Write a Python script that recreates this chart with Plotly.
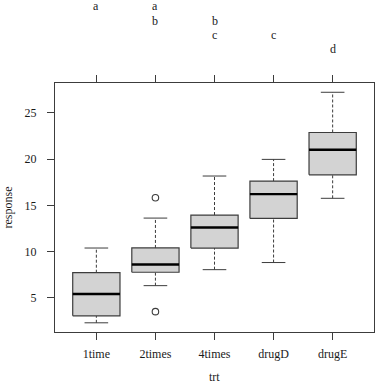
import plotly.graph_objects as go

# ---- data ----
groups = ["1time", "2times", "4times", "drugD", "drugE"]
lower_whisker = [2.30, 6.32, 8.05, 8.82, 15.77]
q1 = [3.06, 7.77, 10.39, 13.59, 18.31]
median = [5.42, 8.61, 12.61, 16.22, 21.02]
q3 = [7.72, 10.40, 13.96, 17.63, 22.89]
upper_whisker = [10.39, 13.63, 18.18, 19.98, 27.24]
outlier_group = ["2times", "2times"]
outlier_value = [3.51, 15.83]
cld_letters = ["a", "ab", "bc", "c", "d"]
y_ticks = [5, 10, 15, 20, 25]

# ---- style ----
FONT = "Liberation Serif"
LINE = "#3c3c3c"
TEXT = "#1a1a1a"
BOX_HALF = 0.4
CAP_HALF = 0.2

pos = {g: i + 1 for i, g in enumerate(groups)}

fig = go.Figure()

for i, g in enumerate(groups):
    x = pos[g]
    # whiskers (dashed)
    fig.add_trace(go.Scatter(
        x=[x, x, None, x, x],
        y=[lower_whisker[i], q1[i], None, q3[i], upper_whisker[i]],
        mode="lines", line=dict(color=LINE, width=1, dash="3px,2px"),
        hoverinfo="skip", showlegend=False))
    # staples
    fig.add_trace(go.Scatter(
        x=[x - CAP_HALF, x + CAP_HALF, None, x - CAP_HALF, x + CAP_HALF],
        y=[lower_whisker[i], lower_whisker[i], None, upper_whisker[i], upper_whisker[i]],
        mode="lines", line=dict(color=LINE, width=1),
        hoverinfo="skip", showlegend=False))
    # box
    fig.add_trace(go.Scatter(
        x=[x - BOX_HALF, x + BOX_HALF, x + BOX_HALF, x - BOX_HALF, x - BOX_HALF],
        y=[q1[i], q1[i], q3[i], q3[i], q1[i]],
        mode="lines", fill="toself", fillcolor="#D3D3D3",
        line=dict(color=LINE, width=1.2),
        hoverinfo="skip", showlegend=False))
    # median
    fig.add_trace(go.Scatter(
        x=[x - BOX_HALF, x + BOX_HALF],
        y=[median[i], median[i]],
        mode="lines", line=dict(color="black", width=2.4),
        hoverinfo="skip", showlegend=False))

# outliers
fig.add_trace(go.Scatter(
    x=[pos[g] for g in outlier_group], y=outlier_value,
    mode="markers",
    marker=dict(symbol="circle-open", size=6.5, color=LINE, line=dict(width=1.1)),
    hoverinfo="skip", showlegend=False))

# compact letter display above the panel
all_letters = sorted(set("".join(cld_letters)))
for g, s in zip(groups, cld_letters):
    for ch in s:
        row = all_letters.index(ch)
        center_y = 6.3 + 14.2 * row
        fig.add_annotation(
            x=pos[g], xref="x", y=1, yref="paper",
            yanchor="middle", yshift=83 - center_y,
            text=ch, showarrow=False,
            font=dict(family=FONT, size=12, color=TEXT))

# axis titles
fig.add_annotation(x=0, xref="paper", y=0.5, yref="paper",
                   xanchor="center", yanchor="middle", xshift=-48,
                   text="response", textangle=-90, showarrow=False,
                   font=dict(family=FONT, size=12, color=TEXT))
fig.add_annotation(x=0.5, xref="paper", y=0, yref="paper",
                   xanchor="center", yanchor="middle", yshift=-45,
                   text="trt", showarrow=False,
                   font=dict(family=FONT, size=12, color=TEXT))

fig.update_layout(
    template="none",
    width=376, height=386,
    margin=dict(l=55, r=2, t=83, b=54, autoexpand=False),
    paper_bgcolor="white", plot_bgcolor="white",
    font=dict(family=FONT, size=12, color=TEXT),
    xaxis=dict(
        range=[0.3, 5.7], tickmode="array",
        tickvals=[pos[g] for g in groups], ticktext=groups,
        ticks="outside", ticklen=7, tickcolor=LINE, tickwidth=1,
        showline=True, linecolor=LINE, linewidth=1, mirror="ticks",
        showgrid=False, zeroline=False, ticklabelstandoff=4,
        automargin=False,
    ),
    yaxis=dict(
        range=[1.306, 28.243], tickmode="array",
        tickvals=y_ticks, ticktext=[str(v) for v in y_ticks],
        ticks="outside", ticklen=7, tickcolor=LINE, tickwidth=1,
        showline=True, linecolor=LINE, linewidth=1, mirror=True,
        showgrid=False, zeroline=False, ticklabelstandoff=8,
        automargin=False,
    ),
)

fig.write_html(
    "out.html",
    config={"displayModeBar": False, "staticPlot": True},
    post_script="document.body.style.margin='0';document.body.style.padding='0';document.body.style.overflow='hidden';",
)
